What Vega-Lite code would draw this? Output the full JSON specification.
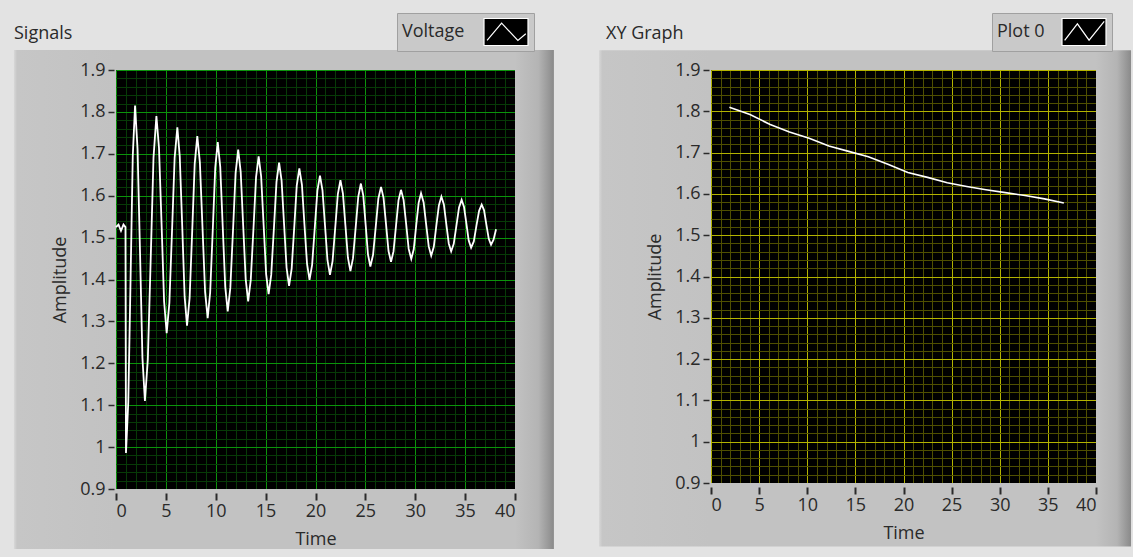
{
  "$schema": "https://vega.github.io/schema/vega-lite/v6.json",
  "background": "#e3e3e3",
  "padding": {"left": 13, "top": 12, "right": 3, "bottom": 9},
  "config": {
    "font": "Open Sans",
    "view": {"fill": "#000000", "stroke": null},
    "axis": {"labelFont": "Open Sans", "titleFont": "Open Sans", "labelFontSize": 18, "titleFontSize": 18, "titleFontWeight": "normal", "labelColor": "#2a2a2a", "titleColor": "#2a2a2a"},
    "legend": {"labelFont": "Open Sans", "titleFont": "Open Sans", "labelFontSize": 18, "titleFontSize": 18, "titleFontWeight": "normal", "titleColor": "#2a2a2a", "labelColor": "#2a2a2a"},
    "title": {"font": "Open Sans", "fontSize": 18, "fontWeight": "normal", "color": "#2a2a2a", "anchor": "start", "frame": "group"}
  },
  "datasets": {
    "signal": [
      {"t": 0, "v": 1.525}, {"t": 0.25, "v": 1.531}, {"t": 0.5, "v": 1.516}, {"t": 0.75, "v": 1.531}, {"t": 0.95, "v": 1.525},
      {"t": 1.0, "v": 0.986}, {"t": 1.23, "v": 1.107}, {"t": 1.46, "v": 1.401}, {"t": 1.68, "v": 1.694}, {"t": 1.91, "v": 1.815},
      {"t": 2.16, "v": 1.712}, {"t": 2.41, "v": 1.463}, {"t": 2.65, "v": 1.213}, {"t": 2.9, "v": 1.11},
      {"t": 3.19, "v": 1.209}, {"t": 3.48, "v": 1.45}, {"t": 3.76, "v": 1.691}, {"t": 4.05, "v": 1.79},
      {"t": 4.31, "v": 1.714}, {"t": 4.57, "v": 1.531}, {"t": 4.82, "v": 1.348}, {"t": 5.08, "v": 1.272},
      {"t": 5.35, "v": 1.344}, {"t": 5.62, "v": 1.518}, {"t": 5.88, "v": 1.691}, {"t": 6.15, "v": 1.763},
      {"t": 6.39, "v": 1.694}, {"t": 6.64, "v": 1.527}, {"t": 6.88, "v": 1.359}, {"t": 7.12, "v": 1.29},
      {"t": 7.38, "v": 1.356}, {"t": 7.64, "v": 1.516}, {"t": 7.89, "v": 1.676}, {"t": 8.15, "v": 1.742},
      {"t": 8.41, "v": 1.679}, {"t": 8.67, "v": 1.525}, {"t": 8.93, "v": 1.371}, {"t": 9.19, "v": 1.308},
      {"t": 9.44, "v": 1.369}, {"t": 9.7, "v": 1.518}, {"t": 9.95, "v": 1.667}, {"t": 10.2, "v": 1.728},
      {"t": 10.45, "v": 1.669}, {"t": 10.7, "v": 1.526}, {"t": 10.95, "v": 1.383}, {"t": 11.2, "v": 1.324},
      {"t": 11.46, "v": 1.38}, {"t": 11.73, "v": 1.517}, {"t": 11.99, "v": 1.654}, {"t": 12.25, "v": 1.71},
      {"t": 12.5, "v": 1.657}, {"t": 12.75, "v": 1.529}, {"t": 13.0, "v": 1.401}, {"t": 13.25, "v": 1.348},
      {"t": 13.51, "v": 1.399}, {"t": 13.78, "v": 1.521}, {"t": 14.04, "v": 1.644}, {"t": 14.3, "v": 1.694},
      {"t": 14.55, "v": 1.646}, {"t": 14.8, "v": 1.53}, {"t": 15.05, "v": 1.413}, {"t": 15.3, "v": 1.365},
      {"t": 15.56, "v": 1.411}, {"t": 15.83, "v": 1.522}, {"t": 16.09, "v": 1.633}, {"t": 16.35, "v": 1.679},
      {"t": 16.6, "v": 1.636}, {"t": 16.85, "v": 1.532}, {"t": 17.1, "v": 1.428}, {"t": 17.35, "v": 1.385},
      {"t": 17.61, "v": 1.426}, {"t": 17.87, "v": 1.525}, {"t": 18.12, "v": 1.624}, {"t": 18.38, "v": 1.665},
      {"t": 18.64, "v": 1.626}, {"t": 18.89, "v": 1.532}, {"t": 19.15, "v": 1.438}, {"t": 19.4, "v": 1.399},
      {"t": 19.66, "v": 1.435}, {"t": 19.93, "v": 1.524}, {"t": 20.19, "v": 1.612}, {"t": 20.45, "v": 1.648},
      {"t": 20.7, "v": 1.613}, {"t": 20.95, "v": 1.53}, {"t": 21.2, "v": 1.446}, {"t": 21.45, "v": 1.411},
      {"t": 21.71, "v": 1.444}, {"t": 21.98, "v": 1.524}, {"t": 22.24, "v": 1.604}, {"t": 22.5, "v": 1.637},
      {"t": 22.75, "v": 1.605}, {"t": 23.0, "v": 1.529}, {"t": 23.25, "v": 1.452}, {"t": 23.5, "v": 1.42},
      {"t": 23.76, "v": 1.451}, {"t": 24.03, "v": 1.525}, {"t": 24.29, "v": 1.598}, {"t": 24.55, "v": 1.629},
      {"t": 24.79, "v": 1.6}, {"t": 25.03, "v": 1.53}, {"t": 25.26, "v": 1.46}, {"t": 25.5, "v": 1.431},
      {"t": 25.77, "v": 1.459}, {"t": 26.04, "v": 1.526}, {"t": 26.3, "v": 1.593}, {"t": 26.57, "v": 1.621},
      {"t": 26.82, "v": 1.595}, {"t": 27.07, "v": 1.532}, {"t": 27.32, "v": 1.468}, {"t": 27.57, "v": 1.442},
      {"t": 27.82, "v": 1.467}, {"t": 28.07, "v": 1.528}, {"t": 28.32, "v": 1.589}, {"t": 28.57, "v": 1.614},
      {"t": 28.83, "v": 1.59}, {"t": 29.09, "v": 1.532}, {"t": 29.34, "v": 1.473}, {"t": 29.6, "v": 1.449},
      {"t": 29.85, "v": 1.472}, {"t": 30.09, "v": 1.528}, {"t": 30.34, "v": 1.583}, {"t": 30.58, "v": 1.606},
      {"t": 30.84, "v": 1.584}, {"t": 31.09, "v": 1.532}, {"t": 31.35, "v": 1.479}, {"t": 31.6, "v": 1.457},
      {"t": 31.86, "v": 1.478}, {"t": 32.11, "v": 1.528}, {"t": 32.37, "v": 1.577}, {"t": 32.62, "v": 1.598},
      {"t": 32.87, "v": 1.579}, {"t": 33.11, "v": 1.533}, {"t": 33.36, "v": 1.486}, {"t": 33.6, "v": 1.467},
      {"t": 33.86, "v": 1.485}, {"t": 34.13, "v": 1.529}, {"t": 34.39, "v": 1.572}, {"t": 34.65, "v": 1.59},
      {"t": 34.89, "v": 1.573}, {"t": 35.13, "v": 1.533}, {"t": 35.36, "v": 1.493}, {"t": 35.6, "v": 1.476},
      {"t": 35.87, "v": 1.491}, {"t": 36.13, "v": 1.528}, {"t": 36.4, "v": 1.564}, {"t": 36.66, "v": 1.579},
      {"t": 36.9, "v": 1.565}, {"t": 37.13, "v": 1.531}, {"t": 37.37, "v": 1.497}, {"t": 37.6, "v": 1.483},
      {"t": 37.85, "v": 1.495}, {"t": 38.1, "v": 1.52}
    ],
    "xy": [
      {"t": 1.91, "v": 1.81}, {"t": 4.05, "v": 1.792}, {"t": 6.15, "v": 1.768}, {"t": 8.15, "v": 1.75},
      {"t": 10.2, "v": 1.735}, {"t": 12.25, "v": 1.716}, {"t": 14.3, "v": 1.703}, {"t": 16.35, "v": 1.69},
      {"t": 18.38, "v": 1.672}, {"t": 20.45, "v": 1.652}, {"t": 22.5, "v": 1.64}, {"t": 24.55, "v": 1.627},
      {"t": 26.57, "v": 1.618}, {"t": 28.57, "v": 1.61}, {"t": 30.58, "v": 1.603}, {"t": 32.62, "v": 1.596},
      {"t": 34.65, "v": 1.588}, {"t": 36.66, "v": 1.578}
    ]
  },
  "spacing": 196,
  "bounds": "flush",
  "resolve": {"scale": {"color": "independent", "x": "independent", "y": "independent"}, "legend": {"color": "independent"}},
  "hconcat": [
    {
      "width": 399,
      "height": 419,
      "title": {"text": "Signals", "dx": -102, "offset": -30},
      "resolve": {"axis": {"x": "independent", "y": "independent"}},
      "layer": [
        {
          "data": {"values": [{}]},
          "mark": {"type": "rect", "clip": false, "color": {"gradient": "linear", "x1": 0, "x2": 1, "y1": 0, "y2": 0, "stops": [{"offset": 0, "color": "#d8d8d8"}, {"offset": 0.03, "color": "#c6c6c6"}, {"offset": 1, "color": "#c2c2c2"}]}},
          "encoding": {
            "x": {"datum": -10.23, "type": "quantitative", "scale": {"domain": [0, 40], "nice": false, "zero": false},
              "axis": {"orient": "bottom", "grid": true, "labels": false, "ticks": false, "domain": false, "title": null, "zindex": 0,
                "values": [0,1,2,3,4,5,6,7,8,9,10,11,12,13,14,15,16,17,18,19,20,21,22,23,24,25,26,27,28,29,30,31,32,33,34,35,36,37,38,39,40],
                "gridColor": {"condition": {"test": "datum.value % 5 === 0", "value": "#0b930b"}, "value": "#073a07"}, "gridWidth": 1, "gridOpacity": 1}},
            "x2": {"datum": 0},
            "y": {"datum": 0.757, "type": "quantitative", "scale": {"domain": [0.9, 1.9], "nice": false, "zero": false},
              "axis": {"orient": "left", "grid": true, "labels": false, "ticks": false, "domain": false, "title": null, "zindex": 0,
                "values": [0.9,0.92,0.94,0.96,0.98,1.0,1.02,1.04,1.06,1.08,1.1,1.12,1.14,1.16,1.18,1.2,1.22,1.24,1.26,1.28,1.3,1.32,1.34,1.36,1.38,1.4,1.42,1.44,1.46,1.48,1.5,1.52,1.54,1.56,1.58,1.6,1.62,1.64,1.66,1.68,1.7,1.72,1.74,1.76,1.78,1.8,1.82,1.84,1.86,1.88,1.9],
                "gridColor": {"condition": {"test": "abs(datum.value * 10 - round(datum.value * 10)) < 0.001", "value": "#0b930b"}, "value": "#073a07"}, "gridWidth": 1, "gridOpacity": 1}},
            "y2": {"datum": 1.948}
          }
        },
        {
          "data": {"values": [{}]},
          "mark": {"type": "rect", "clip": false, "color": {"gradient": "linear", "x1": 0, "x2": 1, "y1": 0, "y2": 0, "stops": [{"offset": 0, "color": "#c2c2c2"}, {"offset": 0.6, "color": "#b4b4b4"}, {"offset": 1, "color": "#8a8a8a"}]}},
          "encoding": {
            "x": {"datum": 40, "type": "quantitative", "scale": {"domain": [0, 40], "nice": false, "zero": false}, "axis": null},
            "x2": {"datum": 43.9},
            "y": {"datum": 0.757, "type": "quantitative", "scale": {"domain": [0.9, 1.9], "nice": false, "zero": false}, "axis": null},
            "y2": {"datum": 1.948}
          }
        },
        {
          "data": {"values": [{}]},
          "mark": {"type": "rect", "clip": false, "color": "#c2c2c2"},
          "encoding": {
            "x": {"datum": 0, "type": "quantitative", "scale": {"domain": [0, 40], "nice": false, "zero": false}, "axis": null},
            "x2": {"datum": 40},
            "y": {"datum": 1.9, "type": "quantitative", "scale": {"domain": [0.9, 1.9], "nice": false, "zero": false}, "axis": null},
            "y2": {"datum": 1.948}
          }
        },
        {
          "data": {"values": [{}]},
          "mark": {"type": "rect", "clip": false, "color": "#c2c2c2"},
          "encoding": {
            "x": {"datum": 0, "type": "quantitative", "scale": {"domain": [0, 40], "nice": false, "zero": false}, "axis": null},
            "x2": {"datum": 40},
            "y": {"datum": 0.757, "type": "quantitative", "scale": {"domain": [0.9, 1.9], "nice": false, "zero": false}, "axis": null},
            "y2": {"datum": 0.9}
          }
        },
        {
          "data": {"name": "signal"},
          "mark": {"type": "line", "strokeWidth": 1.8},
          "encoding": {
            "x": {"field": "t", "type": "quantitative", "scale": {"domain": [0, 40], "nice": false, "zero": false},
              "axis": {"orient": "bottom", "values": [0,5,10,15,20,25,30,35,40], "grid": false, "domain": false, "offset": 4, "tickSize": 7, "tickWidth": 2, "tickColor": "#2a2a2a", "labelPadding": 2, "title": "Time", "titlePadding": 10, "zindex": 1}},
            "y": {"field": "v", "type": "quantitative", "scale": {"domain": [0.9, 1.9], "nice": false, "zero": false},
              "axis": {"orient": "left", "values": [0.9,1.0,1.1,1.2,1.3,1.4,1.5,1.6,1.7,1.8,1.9], "format": "~g", "grid": false, "domain": false, "offset": 2, "tickSize": 6, "tickWidth": 1.5, "tickColor": "#2a2a2a", "labelPadding": 3, "title": "Amplitude", "titlePadding": 10, "zindex": 1}},
            "color": {"datum": "Voltage", "scale": {"range": ["#ffffff"]},
              "legend": {"orient": "none", "legendX": 281, "legendY": -57, "title": "Voltage", "titleOrient": "left", "titleBaseline": "middle", "titleAnchor": "middle", "titlePadding": 18,
                "labelExpr": "''", "labelOffset": 0, "fillColor": "#c9c9c9", "strokeColor": "#a0a0a0", "padding": 5, "clipHeight": 28,
                "symbolType": "M-1,-0.62L1,-0.62L1,0.62L-1,0.62Z M-0.86,0.38L-0.2,-0.4L0.54,0.38L0.9,0.08L0.54,0.38L-0.2,-0.4Z", "symbolSize": 1936,
                "symbolFillColor": "#000000", "symbolStrokeColor": "#ffffff", "symbolStrokeWidth": 1.2}}
          }
        }
      ]
    },
    {
      "width": 385,
      "height": 413,
      "title": {"text": "XY Graph", "dx": -105, "offset": -30},
      "resolve": {"axis": {"x": "independent", "y": "independent"}},
      "layer": [
        {
          "data": {"values": [{}]},
          "mark": {"type": "rect", "clip": false, "color": {"gradient": "linear", "x1": 0, "x2": 1, "y1": 0, "y2": 0, "stops": [{"offset": 0, "color": "#d8d8d8"}, {"offset": 0.03, "color": "#c6c6c6"}, {"offset": 1, "color": "#c2c2c2"}]}},
          "encoding": {
            "x": {"datum": -11.64, "type": "quantitative", "scale": {"domain": [0, 40], "nice": false, "zero": false},
              "axis": {"orient": "bottom", "grid": true, "labels": false, "ticks": false, "domain": false, "title": null, "zindex": 0,
                "values": [0,1,2,3,4,5,6,7,8,9,10,11,12,13,14,15,16,17,18,19,20,21,22,23,24,25,26,27,28,29,30,31,32,33,34,35,36,37,38,39,40],
                "gridColor": {"condition": {"test": "datum.value % 5 === 0", "value": "#b3b300"}, "value": "#4f4f00"}, "gridWidth": 1, "gridOpacity": 1}},
            "x2": {"datum": 0},
            "y": {"datum": 0.746, "type": "quantitative", "scale": {"domain": [0.9, 1.9], "nice": false, "zero": false},
              "axis": {"orient": "left", "grid": true, "labels": false, "ticks": false, "domain": false, "title": null, "zindex": 0,
                "values": [0.9,0.92,0.94,0.96,0.98,1.0,1.02,1.04,1.06,1.08,1.1,1.12,1.14,1.16,1.18,1.2,1.22,1.24,1.26,1.28,1.3,1.32,1.34,1.36,1.38,1.4,1.42,1.44,1.46,1.48,1.5,1.52,1.54,1.56,1.58,1.6,1.62,1.64,1.66,1.68,1.7,1.72,1.74,1.76,1.78,1.8,1.82,1.84,1.86,1.88,1.9],
                "gridColor": {"condition": {"test": "abs(datum.value * 10 - round(datum.value * 10)) < 0.001", "value": "#b3b300"}, "value": "#4f4f00"}, "gridWidth": 1, "gridOpacity": 1}},
            "y2": {"datum": 1.948}
          }
        },
        {
          "data": {"values": [{}]},
          "mark": {"type": "rect", "clip": false, "color": {"gradient": "linear", "x1": 0, "x2": 1, "y1": 0, "y2": 0, "stops": [{"offset": 0, "color": "#c2c2c2"}, {"offset": 0.6, "color": "#b4b4b4"}, {"offset": 1, "color": "#8a8a8a"}]}},
          "encoding": {
            "x": {"datum": 40, "type": "quantitative", "scale": {"domain": [0, 40], "nice": false, "zero": false}, "axis": null},
            "x2": {"datum": 43.64},
            "y": {"datum": 0.746, "type": "quantitative", "scale": {"domain": [0.9, 1.9], "nice": false, "zero": false}, "axis": null},
            "y2": {"datum": 1.948}
          }
        },
        {
          "data": {"values": [{}]},
          "mark": {"type": "rect", "clip": false, "color": "#c2c2c2"},
          "encoding": {
            "x": {"datum": 0, "type": "quantitative", "scale": {"domain": [0, 40], "nice": false, "zero": false}, "axis": null},
            "x2": {"datum": 40},
            "y": {"datum": 1.9, "type": "quantitative", "scale": {"domain": [0.9, 1.9], "nice": false, "zero": false}, "axis": null},
            "y2": {"datum": 1.948}
          }
        },
        {
          "data": {"values": [{}]},
          "mark": {"type": "rect", "clip": false, "color": "#c2c2c2"},
          "encoding": {
            "x": {"datum": 0, "type": "quantitative", "scale": {"domain": [0, 40], "nice": false, "zero": false}, "axis": null},
            "x2": {"datum": 40},
            "y": {"datum": 0.746, "type": "quantitative", "scale": {"domain": [0.9, 1.9], "nice": false, "zero": false}, "axis": null},
            "y2": {"datum": 0.9}
          }
        },
        {
          "data": {"name": "xy"},
          "mark": {"type": "line", "strokeWidth": 1.6},
          "encoding": {
            "x": {"field": "t", "type": "quantitative", "scale": {"domain": [0, 40], "nice": false, "zero": false},
              "axis": {"orient": "bottom", "values": [0,5,10,15,20,25,30,35,40], "grid": false, "domain": false, "offset": 4, "tickSize": 7, "tickWidth": 2, "tickColor": "#2a2a2a", "labelPadding": 2, "title": "Time", "titlePadding": 10, "zindex": 1}},
            "y": {"field": "v", "type": "quantitative", "scale": {"domain": [0.9, 1.9], "nice": false, "zero": false},
              "axis": {"orient": "left", "values": [0.9,1.0,1.1,1.2,1.3,1.4,1.5,1.6,1.7,1.8,1.9], "format": "~g", "grid": false, "domain": false, "offset": 2, "tickSize": 6, "tickWidth": 1.5, "tickColor": "#2a2a2a", "labelPadding": 3, "title": "Amplitude", "titlePadding": 10, "zindex": 1}},
            "color": {"datum": "Plot 0", "scale": {"range": ["#ffffff"]},
              "legend": {"orient": "none", "legendX": 281, "legendY": -57, "title": "Plot 0", "titleOrient": "left", "titleBaseline": "middle", "titleAnchor": "middle", "titlePadding": 16,
                "labelExpr": "''", "labelOffset": 0, "fillColor": "#c9c9c9", "strokeColor": "#a0a0a0", "padding": 5, "clipHeight": 28,
                "symbolType": "M-1,-0.62L1,-0.62L1,0.62L-1,0.62Z M-0.88,0.38L-0.3,-0.37L0.23,0.37L0.92,-0.48L0.23,0.37L-0.3,-0.37Z", "symbolSize": 1936,
                "symbolFillColor": "#000000", "symbolStrokeColor": "#ffffff", "symbolStrokeWidth": 1.2}}
          }
        }
      ]
    }
  ]
}
